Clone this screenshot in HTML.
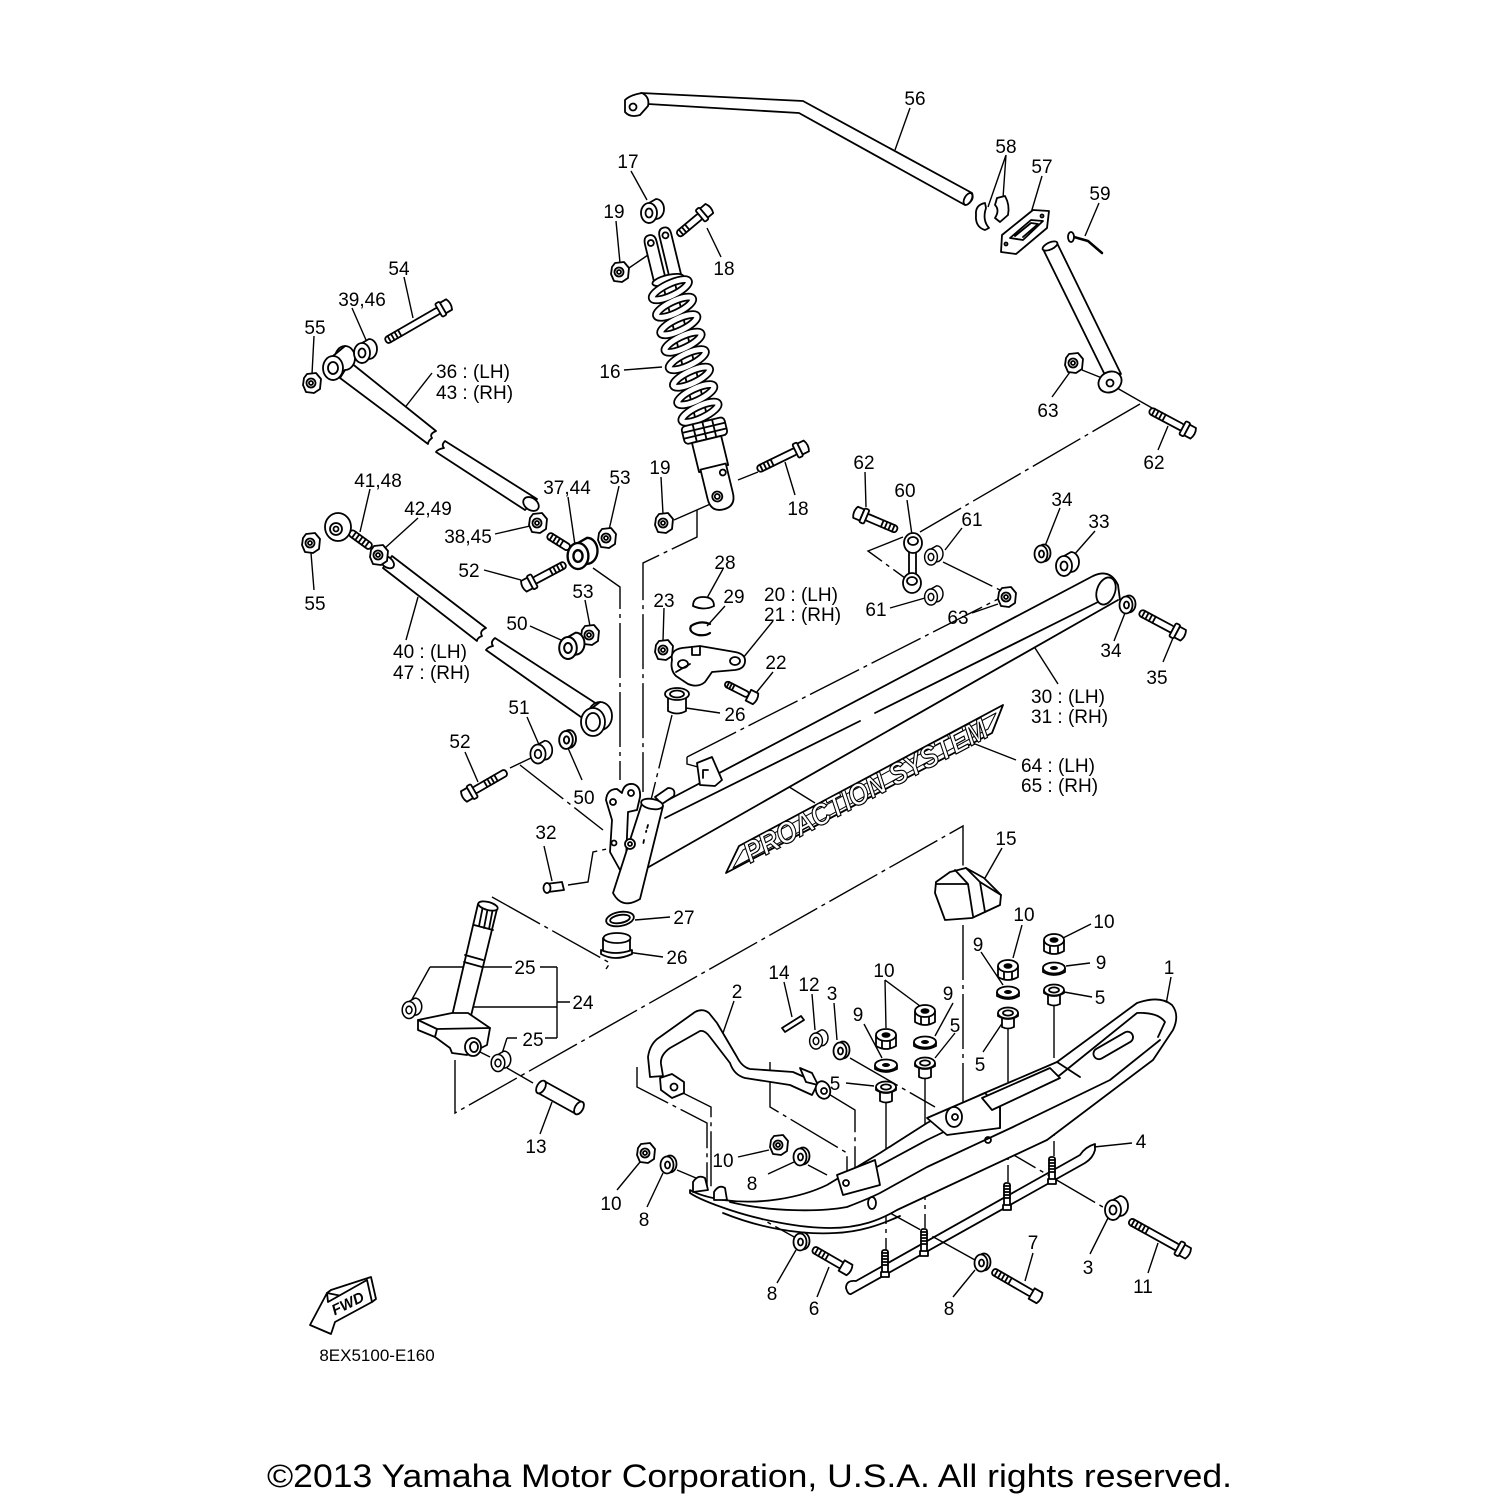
<!DOCTYPE html>
<html><head><meta charset="utf-8"><style>
html,body{margin:0;padding:0;background:#fff}
svg{display:block}
.s{fill:none;stroke:#000;stroke-width:1.8;stroke-linecap:round;stroke-linejoin:round}
.f{fill:#fff;stroke:#000;stroke-width:1.8;stroke-linejoin:round}
.l{fill:none;stroke:#000;stroke-width:1.4}
.d{fill:none;stroke:#000;stroke-width:1.4;stroke-dasharray:55 5 4 5}
text{font-family:"Liberation Sans",Arial,sans-serif;font-size:19px;fill:#000}
.m{text-anchor:middle}
</style></head><body>
<svg width="1500" height="1500" viewBox="0 0 1500 1500" xmlns="http://www.w3.org/2000/svg">
<defs>
<g id="nt"><path class="f" d="M-5,-9 L4,-10 L9,-4 L8,6 L2,10 L-6,9 L-9,2 L-8,-5Z"/><circle cx="-1" r="4.5" class="s"/><circle cx="-1" r="2" class="s"/></g>
<g id="cyl"><path class="f" d="M0,-10 L7,-14 A8,10 0 0 1 7,6 L0,10 Z"/><ellipse rx="8" ry="10" class="f"/><ellipse rx="3.5" ry="4.5" class="s"/></g>
<g id="wa"><ellipse cx="3" cy="-1" rx="6.5" ry="8.5" class="f"/><ellipse rx="6.5" ry="8.5" class="f"/><ellipse cx="0.5" rx="2.5" ry="3.5" class="s"/></g>
<g id="n10"><path class="f" d="M-10,-2 L-10,9 Q0,15 10,9 L10,-2"/><ellipse cy="-2" rx="10" ry="6" class="f"/><ellipse cy="-2" rx="4.5" ry="2.8" fill="#000"/><path class="s" d="M-4,4 L-4,11 M4,4 L4,11"/></g>
<g id="w9"><path class="f" d="M-11,0 L-11,4 Q0,10 11,4 L11,0"/><ellipse rx="11" ry="5.5" class="f"/><ellipse rx="4" ry="2" fill="#000"/></g>
<g id="b5"><path class="f" d="M-6,2 L-6,14 Q0,17 6,14 L6,2"/><path class="f" d="M-10,0 L-10,3 Q0,9 10,3 L10,0"/><ellipse rx="10" ry="5.5" class="f"/><ellipse rx="5" ry="2.6" class="s"/></g>
<g id="stud"><rect class="f" x="-3" y="0" width="6" height="26" rx="2"/><path class="s" d="M-3,3h6m-6,3h6m-6,3h6m-6,3h6m-6,3h6"/><path class="f" d="M-4,22 L4,22 L4,27 L-4,27Z"/></g>
</defs>

<!-- ============ connector / dash-dot lines ============ -->
<g class="d">
<path d="M629,268 L648,255"/>
<path d="M738,480 L758,472"/>
<path d="M674,520 L715,502"/>
<path d="M697,510 L697,537 L643,563 L643,792"/>
<path d="M593,568 L620,587 L620,780"/>
<path d="M1082,370 L1102,378"/>
<path d="M1117,388 L1152,408"/>
<path d="M1140,404 L920,532"/>
<path d="M903,537 L868,551 L905,578"/>
<path d="M943,562 L1000,590"/>
<path d="M687,757 L1000,598"/>
<path d="M687,757 L687,764 L698,767"/>
<path d="M672,715 L651,800"/>
<path d="M510,768 L533,757"/>
<path d="M520,765 L603,830"/>
<path d="M568,885 L588,882 L593,852 L625,845"/>
<path d="M492,897 L610,963 L606,969"/>
<path d="M455,1060 L455,1113 L963,826 L963,870"/>
<path d="M963,925 L963,1105"/>
<path d="M480,1052 L490,1057"/>
<path d="M507,1068 L533,1083"/>
<path d="M637,1067 L637,1087 L707,1123 L707,1187"/>
<path d="M671,1087 L711,1107 L711,1190"/>
<path d="M770,1062 L770,1107 L847,1153 L847,1190"/>
<path d="M827,1093 L855,1110 L855,1193"/>
<path d="M850,1058 L935,1107"/>
<path d="M886,1100 L886,1250"/>
<path d="M925,1076 L925,1228"/>
<path d="M1008,1027 L1008,1182"/>
<path d="M1054,1003 L1054,1156"/>
<path d="M677,1170 L696,1178"/>
<path d="M808,1165 L827,1175"/>
<path d="M715,1193 L796,1238"/>
<path d="M872,1203 L975,1260"/>
<path d="M988,1140 L1108,1210"/>
</g>

<!-- ============ leader lines ============ -->
<g class="l">
<path d="M910,108 L895,150"/>
<path d="M1006,155 L988,207 M1006,155 L1003,198"/>
<path d="M1042,176 L1031,213"/>
<path d="M1099,203 L1085,236"/>
<path d="M631,171 L647,200"/>
<path d="M616,221 L620,263"/>
<path d="M721,257 L707,228"/>
<path d="M404,277 L413,318"/>
<path d="M352,308 L366,340"/>
<path d="M314,336 L312,374"/>
<path d="M432,373 L403,410"/>
<path d="M624,370 L662,367"/>
<path d="M1052,397 L1070,372"/>
<path d="M1158,450 L1168,426"/>
<path d="M865,472 L866,507"/>
<path d="M661,477 L663,514"/>
<path d="M795,495 L785,462"/>
<path d="M370,489 L360,532"/>
<path d="M418,518 L385,548"/>
<path d="M568,497 L575,545"/>
<path d="M619,486 L609,530"/>
<path d="M495,534 L530,526"/>
<path d="M907,500 L912,535"/>
<path d="M962,528 L945,550"/>
<path d="M1060,508 L1045,546"/>
<path d="M1095,531 L1073,556"/>
<path d="M484,570 L521,580"/>
<path d="M723,569 L707,598"/>
<path d="M725,606 L707,626"/>
<path d="M664,608 L663,641"/>
<path d="M773,621 L743,658"/>
<path d="M585,600 L590,626"/>
<path d="M311,553 L314,590"/>
<path d="M890,608 L925,598"/>
<path d="M972,613 L998,604"/>
<path d="M530,626 L561,640"/>
<path d="M418,597 L406,640"/>
<path d="M1114,641 L1125,613"/>
<path d="M1163,662 L1173,638"/>
<path d="M773,672 L756,693"/>
<path d="M1058,684 L1035,648"/>
<path d="M686,708 L720,713"/>
<path d="M527,717 L540,747"/>
<path d="M465,752 L478,782"/>
<path d="M1016,760 L970,742"/>
<path d="M778,780 L815,803"/>
<path d="M582,780 L568,748"/>
<path d="M544,846 L552,881"/>
<path d="M1002,848 L985,878"/>
<path d="M635,920 L670,917"/>
<path d="M627,952 L663,957"/>
<path d="M1022,925 L1013,958"/>
<path d="M1091,924 L1063,938"/>
<path d="M981,952 L1003,985"/>
<path d="M1090,963 L1066,966"/>
<path d="M430,967 L512,967 M540,967 L557,967 M430,967 L410,1003 M557,967 L557,1038 M557,1002 L570,1002 M472,1007 L557,1007"/>
<path d="M507,1038 L500,1060 M507,1038 L517,1038 M545,1038 L557,1038"/>
<path d="M1171,977 L1165,1010"/>
<path d="M885,980 L886,1028 M885,980 L920,1006"/>
<path d="M784,982 L792,1017"/>
<path d="M812,994 L815,1030"/>
<path d="M834,1003 L837,1040"/>
<path d="M953,1003 L935,1036"/>
<path d="M734,1001 L723,1033"/>
<path d="M1092,997 L1064,992"/>
<path d="M864,1024 L882,1058"/>
<path d="M955,1033 L935,1058"/>
<path d="M983,1052 L1003,1022"/>
<path d="M846,1083 L874,1086"/>
<path d="M540,1134 L552,1102"/>
<path d="M1132,1143 L1094,1147"/>
<path d="M738,1157 L769,1150"/>
<path d="M768,1174 L794,1162"/>
<path d="M617,1190 L640,1162"/>
<path d="M647,1207 L663,1173"/>
<path d="M1090,1254 L1108,1218"/>
<path d="M1033,1253 L1025,1281"/>
<path d="M1148,1273 L1158,1243"/>
<path d="M777,1283 L796,1250"/>
<path d="M817,1297 L829,1267"/>
<path d="M953,1297 L975,1270"/>
</g>

<!-- ============ stabilizer bar 56 ============ -->
<path class="f" d="M641,93 L803,101 L972,193 Q975,201 965,205 L799,113 L648,104 Z"/>
<ellipse class="f" cx="968" cy="199" rx="3.5" ry="6.5" transform="rotate(30 968 199)"/>
<path class="f" d="M625,100 Q630,95 642,93 Q650,97 648,106 L640,115 Q630,118 625,112 Z"/>
<circle class="s" cx="633" cy="107" r="3.5"/>
<path class="f" d="M1043,249 L1104,373 L1121,374 L1057,243 Z"/>
<ellipse class="f" cx="1050" cy="246" rx="8" ry="3.5" transform="rotate(-25 1050 246)"/>
<ellipse class="f" cx="1110" cy="382" rx="12" ry="10" transform="rotate(-30 1110 382)"/>
<circle class="s" cx="1110" cy="383" r="3.5"/>
<path class="f" d="M1002,235 L1033,210 L1049,211 L1047,228 L1016,254 L1001,252 Z"/>
<path class="s" d="M1010,238 L1031,220 L1043,221 L1023,240 Z M1015,236 L1031,223 L1038,224 L1023,237"/>
<circle class="s" cx="1006" cy="244" r="1.5"/><circle class="s" cx="1042" cy="216" r="1.5"/>
<path class="f" d="M985,203 Q975,205 976,215 Q975,227 985,230 L989,228 Q982,220 986,208 Z"/>
<path class="f" d="M997,198 L1005,196 Q1010,205 1008,215 L1000,222 L995,218 Q1000,210 995,205 Z"/>
<path class="s" d="M1074,237 L1088,241 L1102,253" style="stroke-width:2.5"/>
<ellipse class="f" cx="1071" cy="237" rx="3" ry="5"/>

<!-- ============ shock 16 ============ -->
<g transform="translate(668,280) rotate(-13.6)">
<path class="f" d="M-14,-2 L-14,-40 Q-14,-48 -8,-48 Q-2,-48 -2,-40 L-2,-2 Z"/>
<path class="f" d="M2,-2 L2,-44 Q2,-52 8,-52 Q14,-52 14,-44 L14,-2 Z"/>
<circle class="s" cx="-8" cy="-40" r="3"/><circle class="s" cx="8" cy="-44" r="3"/>
<ellipse class="f" cx="0" cy="0" rx="16" ry="5"/>
<rect class="f" x="-6" y="2" width="12" height="148"/>
<g fill="none" stroke="#000" stroke-width="8.5">
<ellipse cx="0" cy="10" rx="20" ry="6" transform="rotate(-12 0 10)"/>
<ellipse cx="0" cy="28" rx="20" ry="6" transform="rotate(-12 0 28)"/>
<ellipse cx="0" cy="46" rx="20" ry="6" transform="rotate(-12 0 46)"/>
<ellipse cx="0" cy="64" rx="20" ry="6" transform="rotate(-12 0 64)"/>
<ellipse cx="0" cy="82" rx="20" ry="6" transform="rotate(-12 0 82)"/>
<ellipse cx="0" cy="100" rx="20" ry="6" transform="rotate(-12 0 100)"/>
<ellipse cx="0" cy="118" rx="20" ry="6" transform="rotate(-12 0 118)"/>
<ellipse cx="0" cy="136" rx="20" ry="6" transform="rotate(-12 0 136)"/>
</g>
<g fill="none" stroke="#fff" stroke-width="5">
<ellipse cx="0" cy="10" rx="20" ry="6" transform="rotate(-12 0 10)"/>
<ellipse cx="0" cy="28" rx="20" ry="6" transform="rotate(-12 0 28)"/>
<ellipse cx="0" cy="46" rx="20" ry="6" transform="rotate(-12 0 46)"/>
<ellipse cx="0" cy="64" rx="20" ry="6" transform="rotate(-12 0 64)"/>
<ellipse cx="0" cy="82" rx="20" ry="6" transform="rotate(-12 0 82)"/>
<ellipse cx="0" cy="100" rx="20" ry="6" transform="rotate(-12 0 100)"/>
<ellipse cx="0" cy="118" rx="20" ry="6" transform="rotate(-12 0 118)"/>
<ellipse cx="0" cy="136" rx="20" ry="6" transform="rotate(-12 0 136)"/>
</g>
<rect class="f" x="-22" y="146" width="44" height="18" rx="4"/>
<path class="s" d="M-22,152 H22 M-22,158 H22 M-10,146 V164 M0,146 V164 M10,146 V164"/>
<rect class="f" x="-15" y="164" width="30" height="30"/>
<path class="f" d="M-13,192 L-13,222 Q-13,236 0,236 Q13,236 13,222 L13,192 Z"/>
<circle class="s" cx="-3" cy="222" r="5"/><circle class="s" cx="-3" cy="222" r="2.5"/>
<circle class="s" cx="8" cy="200" r="3"/>
</g>
<use href="#cyl" transform="translate(649,213)"/>
<use href="#nt" transform="translate(620,272)"/>
<use href="#nt" transform="translate(664,523)"/>
<g transform="translate(704,213) rotate(-40)"><rect class="f" x="-34" y="-3.5" width="30" height="7" rx="3"/><path class="s" d="M-30,-3.5v7m4,-7v7m4,-7v7"/><rect class="f" x="-5" y="-7.5" width="5" height="15" rx="1.5"/><path class="f" d="M0,-6 L7,-6 Q10,0 7,6 L0,6 Z"/></g>
<g transform="translate(800,449) rotate(-26)"><rect class="f" x="-47" y="-3.5" width="43" height="7" rx="3"/><path class="s" d="M-43,-3.5v7m4,-7v7m4,-7v7m4,-7v7"/><rect class="f" x="-5" y="-7.5" width="5" height="15" rx="1.5"/><path class="f" d="M0,-6 L7,-6 Q10,0 7,6 L0,6 Z"/></g>

<!-- ============ upper rod 36/43 ============ -->
<path class="f" d="M350,362 L436,431 Q429,434 432,438 Q428,441 428,444 L340,378 Z"/>
<path class="f" d="M445,441 Q441,445 444,448 Q438,449 436,452 L525,510 L537,499 Z"/>
<ellipse class="f" cx="531" cy="504" rx="6" ry="8.5" transform="rotate(-55 531 504)"/>
<ellipse class="f" cx="345" cy="358" rx="10" ry="12"/>
<path class="f" d="M333,356 L345,346 L345,370 L333,380 Z" style="stroke:none"/>
<path class="s" d="M333,356 L345,346 M333,380 L345,370"/>
<ellipse class="f" cx="333" cy="368" rx="10" ry="12"/>
<ellipse class="s" cx="333" cy="368" rx="5" ry="6"/>
<use href="#cyl" transform="translate(362,353)"/>
<use href="#nt" transform="translate(312,383)"/>
<g transform="translate(443,308) rotate(-30)"><rect class="f" x="-66" y="-3.5" width="62" height="7" rx="3"/><path class="s" d="M-62,-3.5v7m4,-7v7m4,-7v7m4,-7v7"/><rect class="f" x="-5" y="-7.5" width="5" height="15" rx="1.5"/><path class="f" d="M0,-6 L7,-6 Q10,0 7,6 L0,6 Z"/></g>

<!-- ============ lower rod 40/47 ============ -->
<path class="f" d="M392,556 L486,628 Q479,631 482,636 Q477,638 477,641 L383,568 Z"/>
<ellipse class="f" cx="387" cy="562" rx="5" ry="8" transform="rotate(-52 387 562)"/>
<path class="f" d="M495,638 Q490,642 493,646 Q488,647 486,650 L588,722 L600,706 Z"/>
<ellipse class="f" cx="600" cy="716" rx="12" ry="14"/>
<path class="s" d="M592,708 L600,702"/>
<ellipse class="f" cx="593" cy="722" rx="12" ry="14"/>
<ellipse class="s" cx="593" cy="722" rx="7" ry="9"/>
<g transform="translate(350,532) rotate(36)"><rect class="f" x="0" y="-3.5" width="26" height="7" rx="3"/><path class="s" d="M5,-3.5v7m4,-7v7m4,-7v7m4,-7v7m4,-7v7"/></g>
<ellipse class="f" cx="338" cy="527" rx="13" ry="14"/>
<circle class="s" cx="336" cy="529" r="6"/><circle class="s" cx="336" cy="529" r="2.5"/>
<use href="#nt" transform="translate(379,555)"/>
<use href="#nt" transform="translate(311,543)"/>

<g transform="translate(548,535) rotate(32)"><rect class="f" x="0" y="-3.5" width="25" height="7" rx="3"/><path class="s" d="M4,-3.5v7m4,-7v7m4,-7v7m4,-7v7"/></g>
<g transform="translate(578,556) scale(1.3)"><use href="#cyl"/></g>
<use href="#nt" transform="translate(538,523)"/>
<use href="#nt" transform="translate(607,538)"/>
<use href="#nt" transform="translate(590,635)"/>
<g transform="translate(568,648) scale(1.1)"><use href="#cyl"/></g>
<g transform="translate(530,583) rotate(152)"><rect class="f" x="-40" y="-3.5" width="36" height="7" rx="3"/><path class="s" d="M-36,-3.5v7m4,-7v7m4,-7v7m4,-7v7"/><rect class="f" x="-5" y="-7.5" width="5" height="15" rx="1.5"/><path class="f" d="M0,-6 L7,-6 Q10,0 7,6 L0,6 Z"/></g>
<g transform="translate(470,793) rotate(150)"><rect class="f" x="-42" y="-3.5" width="38" height="7" rx="3"/><path class="s" d="M-30,-3.5v7m4,-7v7m4,-7v7m4,-7v7"/><rect class="f" x="-5" y="-7.5" width="5" height="15" rx="1.5"/><path class="f" d="M0,-6 L7,-6 Q10,0 7,6 L0,6 Z"/></g>
<g transform="translate(538,754) scale(0.95)"><use href="#cyl"/></g>
<g transform="translate(566,740) scale(1.05)"><use href="#wa"/></g>

<!-- ============ swing arm 30/31 ============ -->
<path class="f" d="M668,800 L1093,576 Q1110,568 1118,585 L1120,600 L647,868 Z" style="stroke:none"/>
<path class="s" d="M668,800 L1093,576 Q1110,568 1118,585 L1120,600"/>
<path class="s" d="M665,818 L860,721 M875,713 L1100,601"/>
<path class="s" d="M647,868 L1118,600"/>
<ellipse class="f" cx="1106" cy="591" rx="9" ry="14" transform="rotate(20 1106 591)"/>
<path class="f" d="M697,763 L712,757 L722,780 L715,786 L700,785 Z"/>
<path class="s" d="M703,770 L703,778 M703,770 L708,770"/>
<path class="f" d="M655,797 L668,788 Q676,788 674,796 L662,804 Z"/>
<path class="f" d="M726,873 L739,846 L1003,705 L992,733 Z"/>
<path class="s" d="M733,868 L743,850 L996,713 L988,729 Z" style="stroke-width:1"/>
<text transform="translate(865,790) rotate(-28)" x="0" y="11" class="m" textLength="272" lengthAdjust="spacingAndGlyphs" style="font-size:30px;font-weight:bold;font-style:italic;fill:#fff;stroke:#000;stroke-width:1.2">PROACTION SYSTEM</text>

<!-- link 60 etc -->
<path class="f" d="M909,545 L909,582 L916,582 L916,545 Z"/>
<ellipse class="f" cx="913" cy="543" rx="9" ry="10"/><ellipse class="s" cx="913" cy="541" rx="5" ry="4"/>
<ellipse class="f" cx="912" cy="583" rx="9" ry="10"/><ellipse class="s" cx="912" cy="581" rx="5" ry="4"/>
<g transform="translate(931,557) scale(0.8)"><use href="#cyl"/></g>
<g transform="translate(931,597) scale(0.8)"><use href="#cyl"/></g>
<use href="#nt" transform="translate(1007,597)"/>
<use href="#wa" transform="translate(1041,554)"/>
<use href="#cyl" transform="translate(1064,566)"/>
<use href="#wa" transform="translate(1126,605)"/>
<g transform="translate(862,515) rotate(-157)"><rect class="f" x="-38" y="-3.5" width="34" height="7" rx="3"/><path class="s" d="M-34,-3.5v7m4,-7v7m4,-7v7m4,-7v7"/><rect class="f" x="-5" y="-7.5" width="5" height="15" rx="1.5"/><path class="f" d="M0,-6 L7,-6 Q10,0 7,6 L0,6 Z"/></g>
<g transform="translate(1187,430) rotate(28)"><rect class="f" x="-42" y="-3.5" width="38" height="7" rx="3"/><path class="s" d="M-38,-3.5v7m4,-7v7m4,-7v7m4,-7v7"/><rect class="f" x="-5" y="-7.5" width="5" height="15" rx="1.5"/><path class="f" d="M0,-6 L7,-6 Q10,0 7,6 L0,6 Z"/></g>
<use href="#nt" transform="translate(1074,363)"/>
<g transform="translate(1177,632) rotate(28)"><rect class="f" x="-42" y="-3.5" width="38" height="7" rx="3"/><path class="s" d="M-38,-3.5v7m4,-7v7m4,-7v7m4,-7v7"/><rect class="f" x="-5" y="-7.5" width="5" height="15" rx="1.5"/><path class="f" d="M0,-6 L7,-6 Q10,0 7,6 L0,6 Z"/></g>

<!-- 28 29 23 20 22 26 -->
<path class="f" d="M693,606 Q693,597 703,597 Q714,597 714,606 Q704,611 693,606 Z"/>
<path class="s" d="M710,624 Q700,620 691,626 Q688,632 698,635 Q706,636 710,633" style="stroke-width:2.2"/>
<use href="#nt" transform="translate(664,650)"/>
<path class="f" d="M672,660 Q670,650 682,648 L700,646 L735,652 Q746,654 745,662 Q744,669 735,670 L712,672 L705,682 Q698,688 688,684 L676,676 Q670,670 672,660 Z"/>
<ellipse class="s" cx="735" cy="661" rx="5" ry="4"/><ellipse class="s" cx="683" cy="664" rx="5" ry="4"/>
<path class="s" d="M676,672 L690,664 M692,648 L692,655 L700,655 L700,647"/>
<g transform="translate(752,697) rotate(27)"><rect class="f" x="-30" y="-3" width="26" height="6" rx="3"/><path class="s" d="M-27,-3v6m3,-6v6m3,-6v6"/><path class="f" d="M-4,-6 L4,-6 Q7,0 4,6 L-4,6 Z"/></g>
<path class="f" d="M668,698 L668,711 Q677,716 686,711 L686,698 Z"/>
<ellipse class="f" cx="677" cy="694" rx="12" ry="6"/><ellipse class="s" cx="677" cy="694" rx="7" ry="3.5"/>

<!-- column -->
<path class="f" d="M606,800 Q607,789 617,789 L622,793 Q624,783 633,784 Q641,786 640,797 L637,810 L628,812 L626,860 L620,870 L610,852 L612,820 Z"/>
<circle class="s" cx="613" cy="802" r="3"/><circle class="s" cx="631" cy="793" r="3"/><circle class="s" cx="614" cy="843" r="2.5"/>
<path class="f" d="M642,803 L613,893 Q622,910 640,899 L663,806 Z"/>
<ellipse class="f" cx="652" cy="804" rx="11" ry="5" transform="rotate(10 652 804)"/>
<path class="s" d="M648,825 L646,832 M644,840 L643,845" style="stroke-dasharray:3 3"/>
<circle class="f" cx="630" cy="844" r="5"/><circle class="s" cx="630" cy="844" r="2"/>
<path class="f" d="M546,884 L562,882 L564,890 L548,892 Z"/><ellipse class="f" cx="547" cy="888" rx="3.5" ry="5"/>
<ellipse class="f" cx="620" cy="919" rx="14" ry="7" transform="rotate(-10 620 919)"/>
<ellipse class="s" cx="620" cy="919" rx="10" ry="4" transform="rotate(-10 620 919)"/>
<path class="f" d="M603,938 L603,952 Q616,958 630,952 L630,938 Z"/>
<path class="f" d="M601,950 L601,954 Q615,962 632,954 L632,950 Q615,956 601,950 Z"/>
<ellipse class="f" cx="617" cy="938" rx="13.5" ry="5"/>

<!-- steering 24 / 25 / 13 -->
<path class="f" d="M478,904 L497,909 L470,1020 L452,1016 Z"/>
<path class="s" d="M483,906 L479,926 M488,907 L484,928 M493,908 L489,929 M474,925 L493,930 M465,955 L483,960 M464,962 L482,967"/>
<ellipse class="f" cx="488" cy="906" rx="10" ry="4" transform="rotate(15 488 906)"/>
<path class="f" d="M418,1020 L452,1013 L468,1013 L490,1028 L487,1045 L467,1055 L452,1053 L450,1048 L435,1037 L418,1030 Z"/>
<path class="s" d="M418,1020 L437,1029 L490,1028 M437,1029 L435,1037"/>
<ellipse class="f" cx="473" cy="1047" rx="8" ry="9"/><ellipse class="s" cx="474" cy="1047" rx="4" ry="5"/>
<g transform="translate(409,1010) scale(0.85)"><use href="#cyl"/></g>
<g transform="translate(498,1063) scale(0.85)"><use href="#cyl"/></g>
<path class="f" d="M544,1081 L582,1102 L576,1114 L538,1093 Z"/>
<ellipse class="f" cx="541" cy="1087" rx="4" ry="7" transform="rotate(30 541 1087)"/>
<ellipse class="f" cx="579" cy="1108" rx="4" ry="7" transform="rotate(30 579 1108)"/>

<!-- 15 block -->
<path class="f" d="M936,882 L950,872 L966,868 L984,878 L1001,895 L1000,905 L972,918 L945,920 L935,893 Z"/>
<path class="s" d="M955,870 L968,884 L973,916 M966,868 L980,882 L985,912 M936,884 L968,884 M980,882 L1001,895"/>

<!-- ============ ski 1 ============ -->
<path class="f" d="M690,1190 Q700,1196 723,1200 C760,1205 800,1198 827,1185 L880,1153 L927,1123 L980,1095 L1057,1062 L1137,1003 Q1160,995 1172,1005 Q1180,1015 1173,1030 L1153,1060 L1047,1140 L897,1210 C880,1220 860,1228 830,1228 C800,1228 760,1220 730,1210 Q700,1200 690,1193 Z"/>
<path class="s" d="M730,1202 C770,1212 820,1212 847,1207 C860,1202 870,1198 880,1193 L927,1167 L1013,1127 L1110,1080 L1160,1040"/>
<path class="s" d="M875,1168 L927,1140 L1000,1105 L1060,1075 L1137,1013 Q1158,1012 1165,1022 L1158,1037"/>
<path class="s" d="M1057,1062 L1080,1077 M1000,1105 L1000,1128"/>
<path class="s" d="M723,1213 C760,1228 800,1235 835,1233 C860,1232 880,1225 900,1216"/>
<path class="f" d="M837,1175 L875,1160 L880,1185 L843,1195 Z"/>
<circle class="s" cx="846" cy="1183" r="3"/>
<path class="f" d="M927,1118 L985,1093 L1000,1108 L1000,1128 L947,1135 Z"/>
<ellipse class="f" cx="954" cy="1117" rx="8" ry="10"/><circle class="s" cx="955" cy="1117" r="3"/>
<path class="f" d="M982,1098 L1050,1068 L1060,1078 L992,1110 Z"/>
<rect class="s" x="1091" y="1040" width="44" height="11" rx="5.5" transform="rotate(-30 1113 1045)"/>
<ellipse class="s" cx="872" cy="1203" rx="4" ry="6"/><circle class="s" cx="988" cy="1140" r="3"/>
<path class="f" d="M693,1192 L693,1182 Q698,1174 705,1178 L708,1190 Z"/>
<path class="f" d="M714,1200 L714,1192 Q719,1184 725,1188 L727,1200 Z"/>

<!-- runner 4 -->
<path class="s" d="M851,1294 L1085,1163 Q1093,1158 1095,1150 M856,1281 L1080,1155 Q1085,1147 1095,1144 M856,1281 Q846,1280 846,1288 Q848,1295 851,1294 M1095,1144 L1095,1150"/>
<use href="#stud" transform="translate(885,1250)"/>
<use href="#stud" transform="translate(924,1229)"/>
<use href="#stud" transform="translate(1007,1183)"/>
<use href="#stud" transform="translate(1052,1157)"/>

<!-- handle 2 -->
<path class="f" d="M650,1077 L648,1057 Q650,1043 660,1037 L695,1012 Q703,1008 709,1013 L717,1023 L737,1057 Q742,1067 750,1069 L793,1072 L818,1083 L812,1095 L790,1085 L745,1078 Q734,1075 730,1063 L710,1037 Q705,1030 700,1031 L670,1048 Q660,1055 661,1064 L663,1076 Z"/>
<path class="f" d="M660,1078 L672,1074 L684,1082 L684,1093 L672,1098 L661,1090 Z"/>
<circle class="s" cx="674" cy="1087" r="3.5"/>
<path class="f" d="M800,1068 L812,1073 L818,1085 L806,1082 Z"/>
<ellipse class="f" cx="823" cy="1090" rx="7" ry="9" transform="rotate(-20 823 1090)"/><circle class="s" cx="824" cy="1091" r="3"/>

<!-- hardware on ski -->
<path class="f" d="M782,1028 L801,1016 L804,1020 L785,1032 Z"/>
<use href="#cyl" transform="translate(816,1041) scale(0.8)"/>
<use href="#wa" transform="translate(840,1051)"/>
<use href="#n10" transform="translate(886,1037)"/>
<use href="#w9" transform="translate(886,1065)"/>
<use href="#b5" transform="translate(886,1087)"/>
<use href="#n10" transform="translate(925,1013)"/>
<use href="#w9" transform="translate(925,1042)"/>
<use href="#b5" transform="translate(925,1063)"/>
<use href="#n10" transform="translate(1008,968)"/>
<use href="#w9" transform="translate(1008,992)"/>
<use href="#b5" transform="translate(1008,1013)"/>
<use href="#n10" transform="translate(1054,942)"/>
<use href="#w9" transform="translate(1054,968)"/>
<use href="#b5" transform="translate(1054,990)"/>
<use href="#nt" transform="translate(646,1153)"/>
<use href="#wa" transform="translate(667,1165)"/>
<use href="#nt" transform="translate(779,1145)"/>
<use href="#wa" transform="translate(800,1157)"/>
<use href="#wa" transform="translate(800,1242)"/>
<use href="#wa" transform="translate(981,1263)"/>
<use href="#cyl" transform="translate(1113,1210)"/>
<g transform="translate(846,1268) rotate(30)"><rect class="f" x="-38" y="-3.5" width="34" height="7" rx="3"/><path class="s" d="M-34,-3.5v7m4,-7v7m4,-7v7m4,-7v7"/><path class="f" d="M-5,-6 L4,-6 Q7,0 4,6 L-5,6 Z"/></g>
<g transform="translate(1036,1296) rotate(30)"><rect class="f" x="-50" y="-3.5" width="46" height="7" rx="3"/><path class="s" d="M-46,-3.5v7m4,-7v7m4,-7v7m4,-7v7m4,-7v7"/><path class="f" d="M-5,-6 L4,-6 Q7,0 4,6 L-5,6 Z"/></g>
<g transform="translate(1182,1250) rotate(29)"><rect class="f" x="-60" y="-3.5" width="56" height="7" rx="3"/><path class="s" d="M-56,-3.5v7m4,-7v7m4,-7v7m4,-7v7m4,-7v7"/><rect class="f" x="-5" y="-7.5" width="5" height="15" rx="1.5"/><path class="f" d="M0,-6 L7,-6 Q10,0 7,6 L0,6 Z"/></g>

<!-- FWD arrow -->
<path class="f" d="M327,1293 L331,1290 L371,1277 L376,1299 L372,1302 Z"/>
<path class="f" d="M310,1325 L327,1293 L328,1302 L367,1280 L372,1302 L335,1322 L331,1334 Z"/>
<text transform="translate(350,1308) rotate(-26)" class="m" style="font-size:15px;font-weight:bold;font-style:italic">FWD</text>

<!-- ============ labels ============ -->
<g class="m">
<text x="915" y="105">56</text>
<text x="1006" y="153">58</text>
<text x="1042" y="173">57</text>
<text x="1100" y="200">59</text>
<text x="628" y="168">17</text>
<text x="614" y="218">19</text>
<text x="724" y="275">18</text>
<text x="399" y="275">54</text>
<text x="362" y="306">39,46</text>
<text x="315" y="334">55</text>
<text x="610" y="378">16</text>
<text x="1048" y="417">63</text>
<text x="1154" y="469">62</text>
<text x="864" y="469">62</text>
<text x="660" y="474">19</text>
<text x="798" y="515">18</text>
<text x="378" y="487">41,48</text>
<text x="428" y="515">42,49</text>
<text x="567" y="494">37,44</text>
<text x="620" y="484">53</text>
<text x="468" y="543">38,45</text>
<text x="905" y="497">60</text>
<text x="972" y="526">61</text>
<text x="1062" y="506">34</text>
<text x="1099" y="528">33</text>
<text x="469" y="577">52</text>
<text x="725" y="569">28</text>
<text x="734" y="603">29</text>
<text x="664" y="607">23</text>
<text x="583" y="598">53</text>
<text x="315" y="610">55</text>
<text x="876" y="616">61</text>
<text x="958" y="624">63</text>
<text x="517" y="630">50</text>
<text x="1111" y="657">34</text>
<text x="1157" y="684">35</text>
<text x="776" y="669">22</text>
<text x="735" y="721">26</text>
<text x="519" y="714">51</text>
<text x="460" y="748">52</text>
<text x="584" y="804">50</text>
<text x="546" y="839">32</text>
<text x="1006" y="845">15</text>
<text x="684" y="924">27</text>
<text x="1024" y="921">10</text>
<text x="1104" y="928">10</text>
<text x="677" y="964">26</text>
<text x="978" y="951">9</text>
<text x="1101" y="969">9</text>
<text x="525" y="974">25</text>
<text x="1169" y="974">1</text>
<text x="884" y="977">10</text>
<text x="779" y="979">14</text>
<text x="809" y="991">12</text>
<text x="832" y="1000">3</text>
<text x="948" y="1000">9</text>
<text x="737" y="998">2</text>
<text x="583" y="1009">24</text>
<text x="1100" y="1004">5</text>
<text x="533" y="1046">25</text>
<text x="858" y="1021">9</text>
<text x="955" y="1032">5</text>
<text x="980" y="1071">5</text>
<text x="835" y="1090">5</text>
<text x="536" y="1153">13</text>
<text x="1141" y="1148">4</text>
<text x="723" y="1167">10</text>
<text x="752" y="1190">8</text>
<text x="611" y="1210">10</text>
<text x="644" y="1226">8</text>
<text x="1088" y="1274">3</text>
<text x="1033" y="1249">7</text>
<text x="1143" y="1293">11</text>
<text x="772" y="1300">8</text>
<text x="814" y="1315">6</text>
<text x="949" y="1315">8</text>
</g>
<text x="436" y="378">36 : (LH)</text>
<text x="436" y="399">43 : (RH)</text>
<text x="393" y="658">40 : (LH)</text>
<text x="393" y="679">47 : (RH)</text>
<text x="764" y="601">20 : (LH)</text>
<text x="764" y="621">21 : (RH)</text>
<text x="1031" y="703">30 : (LH)</text>
<text x="1031" y="723">31 : (RH)</text>
<text x="1021" y="772">64 : (LH)</text>
<text x="1021" y="792">65 : (RH)</text>

<text x="377" y="1361" class="m" style="font-size:17px">8EX5100-E160</text>
<text x="267" y="1487" style="font-size:32px" textLength="965" lengthAdjust="spacingAndGlyphs">©2013 Yamaha Motor Corporation, U.S.A. All rights reserved.</text>
</svg>
</body></html>
